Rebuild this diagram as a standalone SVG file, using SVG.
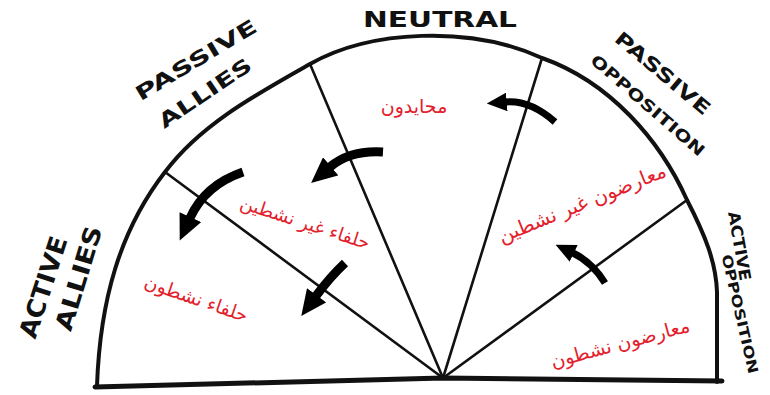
<svg xmlns="http://www.w3.org/2000/svg" width="770" height="395" viewBox="0 0 770 395">
<style>
.edge{fill:none;stroke:#111;stroke-width:4;stroke-linejoin:round;stroke-linecap:round}
.base{fill:none;stroke:#111;stroke-width:5;stroke-linecap:round}
.ray{fill:none;stroke:#111;stroke-width:2.6;stroke-linecap:round}
.arrow{fill:none;stroke:#000;stroke-linecap:butt;marker-end:url(#head)}
.hand{font-family:"DejaVu Sans",sans-serif;font-weight:bold;fill:#111;text-anchor:middle}
.ar{font-family:"DejaVu Sans",sans-serif;fill:#e3202b;text-anchor:middle}
</style>
<defs>
<marker id="head" viewBox="0 0 26 24" refX="1" refY="12" markerWidth="2.9" markerHeight="2.65" orient="auto" markerUnits="strokeWidth">
<path d="M0,0 L26,12 L0,24 Z" fill="#000"/>
</marker>
</defs>
<rect width="770" height="395" fill="#fff"/>
<g id="frame">
<path class="edge" d="M97,386 C100,300 120,230 165,172 C200,125 255,95 310,64 C370,30 470,25 542,58 C610,82 660,140 687,200 C705,235 716,262 717,292 L717,382"/>
<path class="base" d="M95,387 C250,383 350,380 443,378 C550,380 650,381 722,381"/>
</g>
<g id="connectors">
<line class="ray" x1="443" y1="378" x2="165" y2="172"/>
<line class="ray" x1="443" y1="378" x2="310" y2="64"/>
<line class="ray" x1="443" y1="378" x2="542" y2="58"/>
<line class="ray" x1="443" y1="378" x2="687" y2="200"/>
<path class="arrow" stroke-width="7" d="M555,122 Q530,100 506,102"/>
<path class="arrow" stroke-width="9" d="M383,152 Q350,150 330,167"/>
<path class="arrow" stroke-width="9" d="M243,172 Q205,185 190,218"/>
<path class="arrow" stroke-width="9" d="M345,263 Q330,277 316,296"/>
<path class="arrow" stroke-width="7" d="M605,283 Q592,262 573,253"/>
</g>
<g id="neutral">
<text class="hand" x="440" y="27" font-size="22" textLength="154" lengthAdjust="spacingAndGlyphs">NEUTRAL</text>
<text class="ar" x="414" y="113" font-size="19">محايدون</text>
</g>
<g id="passive-allies">
<text class="hand" transform="translate(196,60) rotate(-31)" y="7" font-size="20" textLength="138" lengthAdjust="spacingAndGlyphs">PASSIVE</text>
<text class="hand" transform="translate(205,93) rotate(-34)" y="7" font-size="20" textLength="108" lengthAdjust="spacingAndGlyphs">ALLIES</text>
<text class="ar" transform="translate(305,223) rotate(18)" y="6" font-size="18.5">حلفاء غير نشطين</text>
</g>
<g id="active-allies">
<text class="hand" transform="translate(43,287) rotate(-72)" y="9" font-size="25" textLength="105" lengthAdjust="spacingAndGlyphs">ACTIVE</text>
<text class="hand" transform="translate(78,278) rotate(-73)" y="9" font-size="24" textLength="108" lengthAdjust="spacingAndGlyphs">ALLIES</text>
<text class="ar" transform="translate(196,299) rotate(19)" y="6" font-size="18.7">حلفاء نشطون</text>
</g>
<g id="passive-opposition">
<text class="hand" transform="translate(663,73) rotate(40)" y="7" font-size="19" textLength="118" lengthAdjust="spacingAndGlyphs">PASSIVE</text>
<text class="hand" transform="translate(648,105) rotate(41)" y="6" font-size="16" textLength="145" lengthAdjust="spacingAndGlyphs">OPPOSITION</text>
<text class="ar" transform="translate(582,203) rotate(-22)" y="7" font-size="20">معارضون غير نشطين</text>
</g>
<g id="active-opposition">
<text class="hand" transform="translate(740,246) rotate(80)" y="6" font-size="16" textLength="70" lengthAdjust="spacingAndGlyphs">ACTIVE</text>
<text class="hand" transform="translate(740,314) rotate(77)" y="5" font-size="14" textLength="122" lengthAdjust="spacingAndGlyphs">OPPOSITION</text>
<text class="ar" transform="translate(620,343) rotate(-15)" y="7" font-size="19.2">معارضون نشطون</text>
</g>
</svg>
